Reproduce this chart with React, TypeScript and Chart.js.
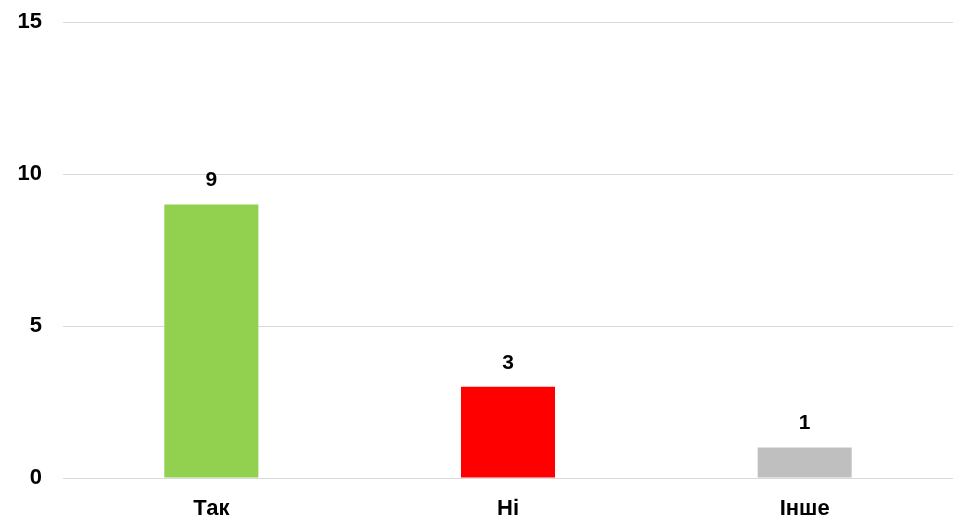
import React, { useEffect, useRef } from "react";
import { Chart, registerables } from "chart.js";

Chart.register(...registerables);

const categories = ["Так", "Ні", "Інше"];
const values = [9, 3, 1];
const barColors = ["#92D050", "#FF0000", "#BFBFBF"];
const yTicks = [0, 5, 10, 15];

const FONT = "'Liberation Sans', Arial, sans-serif";

const dataLabels = {
  id: "dataLabels",
  afterDatasetsDraw(chart: any) {
    const ctx = chart.ctx;
    const meta = chart.getDatasetMeta(0);
    ctx.save();
    ctx.font = `bold 21px ${FONT}`;
    ctx.fillStyle = "#000000";
    ctx.textAlign = "center";
    ctx.textBaseline = "middle";
    meta.data.forEach((bar: any, i: number) => {
      ctx.fillText(String(values[i]), bar.x, bar.y - 24);
    });
    ctx.restore();
  },
};

export default function App() {
  const ref = useRef<HTMLCanvasElement | null>(null);
  useEffect(() => {
    if (!ref.current) return;
    const chart = new Chart(ref.current, {
      type: "bar",
      data: {
        labels: categories,
        datasets: [
          {
            data: values,
            backgroundColor: barColors,
            borderWidth: 0,
            categoryPercentage: 1,
            barPercentage: 0.317,
          },
        ],
      },
      options: {
        animation: false,
        responsive: false,
        devicePixelRatio: 1,
        layout: { padding: { top: 22, right: 0, bottom: 0, left: 0 } },
        plugins: {
          legend: { display: false },
          tooltip: { enabled: false },
        },
        scales: {
          x: {
            afterFit(scale: any) {
              scale.height = 41;
              scale.paddingLeft = 0;
              scale.paddingRight = 0;
            },
            grid: { display: false },
            border: { display: false },
            ticks: {
              color: "#000000",
              padding: 10,
              font: { family: FONT, size: 22, weight: "bold" },
            },
          },
          y: {
            min: 0,
            max: 15,
            afterFit(scale: any) {
              scale.width = 63;
              scale.paddingTop = 0;
              scale.paddingBottom = 0;
            },
            afterBuildTicks(scale: any) {
              scale.ticks = yTicks.map((v) => ({ value: v }));
            },
            grid: { color: "#D9D9D9", lineWidth: 1, drawTicks: false },
            border: { display: false },
            ticks: {
              color: "#000000",
              padding: 21,
              font: { family: FONT, size: 22, weight: "bold" },
            },
          },
        },
      },
      plugins: [dataLabels],
    });
    return () => chart.destroy();
  }, []);
  return (
    <div style={{ position: "fixed", left: 0, top: 0, width: 953, height: 519, background: "#fff" }}>
      <canvas ref={ref} width={953} height={519} style={{ display: "block", width: 953, height: 519 }} />
    </div>
  );
}
